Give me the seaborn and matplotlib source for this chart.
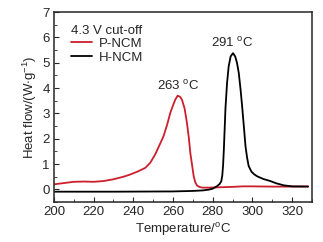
import numpy as np
import pandas as pd
import seaborn as sns
from matplotlib import pyplot as plt
from matplotlib.ticker import MultipleLocator

# values
p_temp = [200, 205, 210, 215, 220, 225, 230, 235, 238.5, 242, 246, 248.5, 251, 253, 255.2,
          257, 258.6, 260, 261.1, 262.3, 263.5, 264.5, 265.8, 267, 268, 268.7, 269.6, 270.4,
          271.2, 272.1, 273.5, 275, 278, 282, 286, 290, 295, 300, 310, 320, 328]
p_heat = [0.20, 0.25, 0.30, 0.31, 0.30, 0.33, 0.40, 0.50, 0.59, 0.70, 0.85, 1.05, 1.38, 1.72,
          2.1, 2.55, 3.02, 3.32, 3.54, 3.70, 3.66, 3.54, 3.2, 2.63, 2.0, 1.44, 0.95, 0.52,
          0.28, 0.15, 0.09, 0.07, 0.07, 0.08, 0.09, 0.10, 0.12, 0.12, 0.11, 0.11, 0.12]

h_temp = [200, 230, 260, 270, 275, 278, 280, 282.2, 283.5, 284.3, 284.8, 285.2, 285.6, 286.0,
          286.4, 287.2, 288, 289, 290.2, 291.3, 292.2, 293.1, 294, 294.8, 295.7, 296.5, 297.3,
          298.1, 299.5, 300.8, 302.3, 305.5, 309, 312, 315.8, 320, 328]
h_heat = [-0.09, -0.09, -0.08, -0.06, -0.04, -0.01, 0.03, 0.13, 0.22, 0.32, 0.55, 0.95, 1.6,
          2.4, 3.2, 4.2, 4.85, 5.25, 5.38, 5.25, 5.0, 4.6, 3.95, 3.28, 2.45, 1.7, 1.25, 0.92,
          0.7, 0.6, 0.52, 0.41, 0.33, 0.24, 0.16, 0.12, 0.11]

sns.set_style("ticks")
plt.rcParams['font.family'] = ['Liberation Sans', 'DejaVu Sans']
plt.rcParams['mathtext.fontset'] = 'custom'
plt.rcParams['mathtext.rm'] = 'Liberation Sans'
plt.rcParams['mathtext.it'] = 'Liberation Sans'

df = pd.concat([
    pd.DataFrame({"T": p_temp, "Q": p_heat, "sample": "P-NCM"}),
    pd.DataFrame({"T": h_temp, "Q": h_heat, "sample": "H-NCM"}),
])

fig = plt.figure(figsize=(3.23, 2.42), dpi=100)
ax = fig.add_axes([0.167, 0.165, 0.799, 0.785])
sns.lineplot(data=df, x="T", y="Q", hue="sample", palette={"P-NCM": "#cc1f2c", "H-NCM": "black"},
             linewidth=1.3, ax=ax, sort=False)

ax.set_xlim(200, 330)
ax.set_ylim(-0.5, 7)
ax.xaxis.set_major_locator(MultipleLocator(20))
ax.xaxis.set_minor_locator(MultipleLocator(10))
ax.yaxis.set_major_locator(MultipleLocator(1))
ax.yaxis.set_minor_locator(MultipleLocator(0.5))
ax.tick_params(which='both', direction='in', labelsize=9.5, pad=3)
ax.tick_params(which='major', length=3.5)
ax.tick_params(which='minor', length=2)
for s in ax.spines.values():
    s.set_linewidth(1.1)

ax.set_xlabel("Temperature/$^{\\rm o}$C", fontsize=9.5, labelpad=2)
ax.set_ylabel("Heat flow/(W$\\cdot$g$^{-1}$)", fontsize=9.5, labelpad=2)

ax.text(262.5, 3.8, "263 $^{\\rm o}$C", ha='center', va='bottom', fontsize=9.5)
ax.text(290, 5.5, "291 $^{\\rm o}$C", ha='center', va='bottom', fontsize=9.5)

leg = ax.legend(title="4.3 V cut-off", loc='upper left', bbox_to_anchor=(0.025, 0.99),
                frameon=False, fontsize=9.5, title_fontsize=9.5, handlelength=1.56,
                handletextpad=0.58, labelspacing=0.1, borderaxespad=0.4)
leg._legend_box.align = "left"

fig.savefig("out.png", dpi=100)
